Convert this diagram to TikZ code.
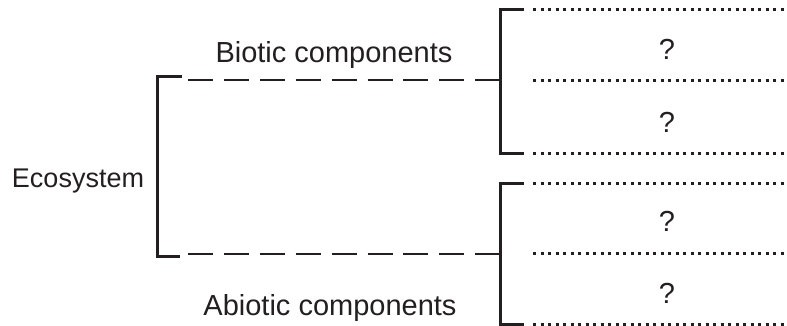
\documentclass[tikz,border=0pt]{standalone}
\usepackage{fontspec}
\setmainfont{Liberation Sans}
\definecolor{ink}{HTML}{231F20}
\begin{document}
\begin{tikzpicture}[x=1pt,y=-1pt,
  lbl/.style={font=\fontsize{29}{34}\selectfont, text=ink, inner sep=0pt, anchor=base},
  brk/.style={line width=3pt, draw=ink},
  dashline/.style={line width=2.6pt, draw=ink, dash pattern=on 25pt off 10.9pt},
  dotline/.style={line width=3pt, draw=ink, dash pattern=on 3.2pt off 4.3pt}]
\useasboundingbox (0,0) rectangle (787,326);

% labels
\node[lbl, font=\fontsize{27}{32}\selectfont] (eco) at (78,187) {Ecosystem};
\node[lbl] (bio) at (334,63) {Biotic components};
\node[lbl] (abio) at (330,315) {Abiotic components};
\node[lbl] (q1) at (667,60) {?};
\node[lbl] (q2) at (667,132) {?};
\node[lbl] (q3) at (667,231) {?};
\node[lbl] (q4) at (667,303) {?};

% left bracket
\coordinate (lta) at (182,77);
\coordinate (ltb) at (157,77);
\coordinate (lba) at (157,256);
\coordinate (lbb) at (180,256);
\draw[brk] (lta) -- (ltb) -- (lba) -- (lbb);

% dashed connectors
\coordinate (d1s) at (188,80);
\coordinate (d1e) at (500,80);
\coordinate (d2s) at (188,254);
\coordinate (d2e) at (500,254);
\draw[dashline] (d1s) -- (d1e);
\draw[dashline] (d2s) -- (d2e);

% upper right bracket
\coordinate (ua) at (524,10);
\coordinate (ub) at (500,10);
\coordinate (uc) at (500,154);
\coordinate (ud) at (524,154);
\draw[brk] (ua) -- (ub) -- (uc) -- (ud);

% lower right bracket
\coordinate (la) at (524,183);
\coordinate (lb) at (500,183);
\coordinate (lc) at (500,324);
\coordinate (ld) at (524,324);
\draw[brk] (la) -- (lb) -- (lc) -- (ld);

% dotted lines
\foreach \y/\n in {10/a,81/b,154/c,183/d,253/e,324/f}{
  \coordinate (s\n) at (533,\y);
  \coordinate (e\n) at (787,\y);
  \draw[dotline] (s\n) -- (e\n);
}
\end{tikzpicture}
\end{document}
